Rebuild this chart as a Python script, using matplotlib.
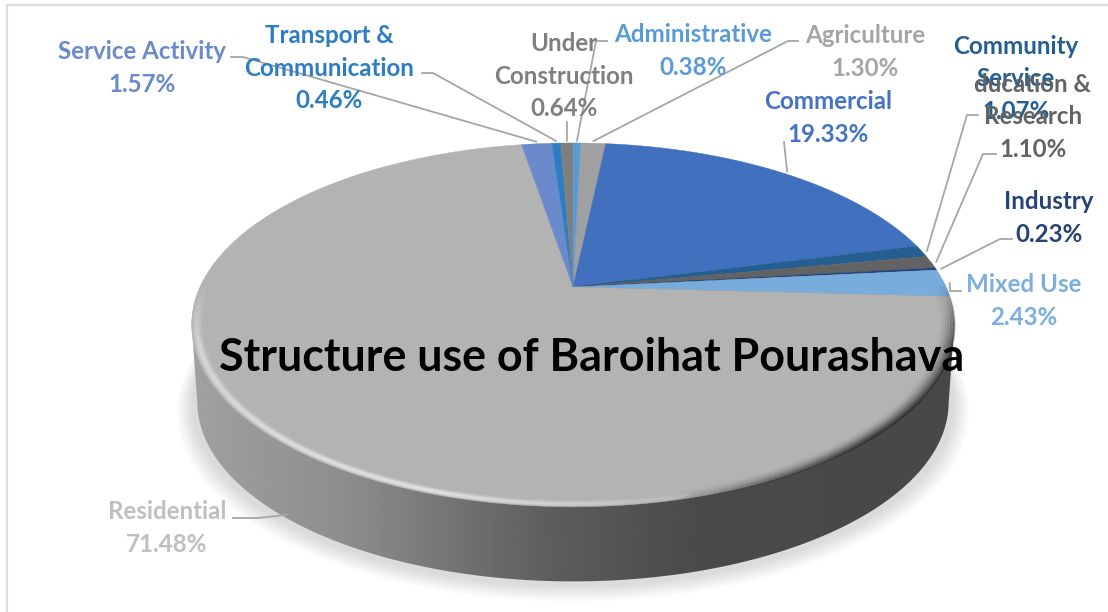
import numpy as np
import matplotlib
matplotlib.use('Agg')
import matplotlib.pyplot as plt
from matplotlib.collections import LineCollection
from matplotlib.patches import Polygon

plt.rcParams['font.family'] = ['Lato', 'DejaVu Sans']

# slices, clockwise from the top
categories = ['Agriculture', 'Commercial', 'Community Service', 'Education & Research',
              'Industry', 'Mixed Use', 'Residential', 'Service Activity',
              'Transport & Communication', 'Under Construction', 'Administrative']
values = [1.30, 19.33, 1.07, 1.10, 0.23, 2.43, 71.48, 1.57, 0.46, 0.64, 0.38]
slice_colors = ['#a0a0a0', '#4170bf', '#255e91', '#636363', '#264478', '#78acdd',
                '#b3b3b3', '#6a8acb', '#2e7dc2', '#7f7f7f', '#5b9bd5']
label_texts = ['Agriculture', 'Commercial', 'Community\nService', 'ducation &\nResearch',
               'Industry', 'Mixed Use', 'Residential', 'Service Activity',
               'Transport &\nCommunication', 'Under\nConstruction', 'Administrative']
label_colors = ['#a5a5a5', '#4472c4', '#255e91', '#636363', '#264478', '#7cafdd',
                '#bfbfbf', '#6a8acb', '#2e7dc2', '#7f7f7f', '#5b9bd5']
# label centres and the elbow of each leader, in pixels
label_pos = [(865, 52), (828, 118), (1016, 79), (1033, 117), (1049, 218), (1024, 301),
             (167, 528), (142, 68), (329, 68), (564, 76), (693, 51)]
leader_start = [[(798, 41), (788, 41)], [(784, 142)], [(978, 115), (967, 115)],
                [(996, 154), (983, 154)], [(1012, 239), (1000, 239)], [(961, 291), (950, 291)],
                [(233, 518), (258, 518)], [(231, 57), (243, 57)], [(422, 73), (433, 73)],
                [(567, 122)], [(607, 41), (596, 41)]]
title = 'Structure use of Baroihat Pourashava'

side_x = [190, 350, 500, 560, 700, 960]
side_grey = [0.63, 0.55, 0.41, 0.36, 0.29, 0.28]

# tilted disc: centre, radii, perspective
cx, cy = 573, 287
a, b, k = 373, 174, 0.208
depth = 78


def project(x, y, scale=1.0, drop=0):
    d = 1 + k * y
    return cx + a * x * scale / d, cy - b * y * scale / d + drop


def rim(theta, scale=1.0, drop=0):
    return project(np.cos(theta), np.sin(theta), scale, drop)


fig = plt.figure(figsize=(11.08, 6.12), dpi=100)
ax = fig.add_axes([0, 0, 1, 1])

wedges, _ = ax.pie(values, colors=slice_colors, startangle=88.6, counterclock=False)

ax.set_xlim(0, 1108)
ax.set_ylim(612, 0)
ax.axis('off')

# frame of the chart area
ax.plot([7, 7, 1108], [612, 5, 5], color='#dcdcdc', lw=1.6, zorder=1)

t = np.linspace(0, 2 * np.pi, 500)

# soft shadow under the disc
for i in range(12):
    sx, sy = rim(t, 1.0 + i * 0.0035, depth + 2 + i * 0.6)
    ax.fill(sx, sy, color='black', alpha=0.01, lw=0, zorder=2)

# side wall with horizontal gradient
tx, ty = rim(t)
lx, ly = rim(t, 0.985, depth)
upper = ty <= cy + 38
lower = ly >= cy + 38 + depth
top_part = np.argsort(tx[upper])
low_part = np.argsort(lx[lower])[::-1]
wall_x = np.r_[tx[upper][top_part], lx[lower][low_part]]
wall_y = np.r_[ty[upper][top_part], ly[lower][low_part]]
wall = Polygon(np.c_[wall_x, wall_y], closed=True, transform=ax.transData, fc='none', ec='none')
ax.add_patch(wall)
grad_x = np.linspace(190, 960, 400)
grad = np.interp(grad_x, side_x, side_grey).reshape(1, -1)
img = ax.imshow(grad, cmap='gray', vmin=0, vmax=1, extent=(190, 960, 610, 280),
                aspect='auto', zorder=3)
img.set_clip_path(wall)
ax.set_xlim(0, 1108)
ax.set_ylim(612, 0)

# slices on the top face
for w in wedges:
    th = np.radians(np.linspace(w.theta1, w.theta2, 200))
    px, py = rim(th)
    w.set_visible(False)
    ax.fill(np.r_[cx, px], np.r_[cy, py], color=w.get_facecolor(), lw=0.3, zorder=4)

# bevel along the front edge of the face
th = np.linspace(0.12 * np.pi, -1.04 * np.pi, 700)
steps = np.linspace(0.955, 1.0, 12)
for s in steps:
    px, py = rim(th, s)
    pts = np.c_[px, py]
    segs = np.stack([pts[:-1], pts[1:]], axis=1)
    c = np.cos(th[:-1])
    fade = np.clip((0.02 - np.sin(th[:-1])) / 0.35, 0, 1)
    u = (s - 0.955) / 0.045
    light = np.clip((0.3 - c) / 0.6, 0, 1) * np.exp(-((u - 0.7) / 0.22) ** 2) * 0.38
    dark = np.clip((c - 0.2) / 0.5, 0, 1) * u ** 2 * 0.5
    rgba = np.zeros((len(c), 4))
    rgba[:, :3] = np.where(light[:, None] > dark[:, None], 1.0, 0.0)
    rgba[:, 3] = np.maximum(light, dark) * fade
    ax.add_collection(LineCollection(segs, colors=rgba, linewidths=1.6, zorder=5))

# leaders and labels
total = sum(values)
start = 90 - 88.6
cum = 0
for i, v in enumerate(values):
    mid = np.radians(start + (cum + v / 2) / total * 360)
    cum += v
    if categories[i] == 'Residential':
        ex, ey = project(np.sin(mid), np.cos(mid), 0.975, depth)
    else:
        ex, ey = project(np.sin(mid), np.cos(mid), 1.015)
    pts = leader_start[i] + [(ex, ey)]
    ax.plot([p[0] for p in pts], [p[1] for p in pts], color='#a6a6a6', lw=1.3, zorder=6)
    ax.text(label_pos[i][0], label_pos[i][1], '%s\n%.2f%%' % (label_texts[i], v),
            color=label_colors[i], fontsize=17.4, fontweight='bold', ha='center', va='center',
            linespacing=1.52, zorder=7)

ax.text(592, 358, title, color='black', fontsize=32.3, fontweight='bold',
        ha='center', va='center', zorder=8)

plt.savefig('out.png', dpi=100)
